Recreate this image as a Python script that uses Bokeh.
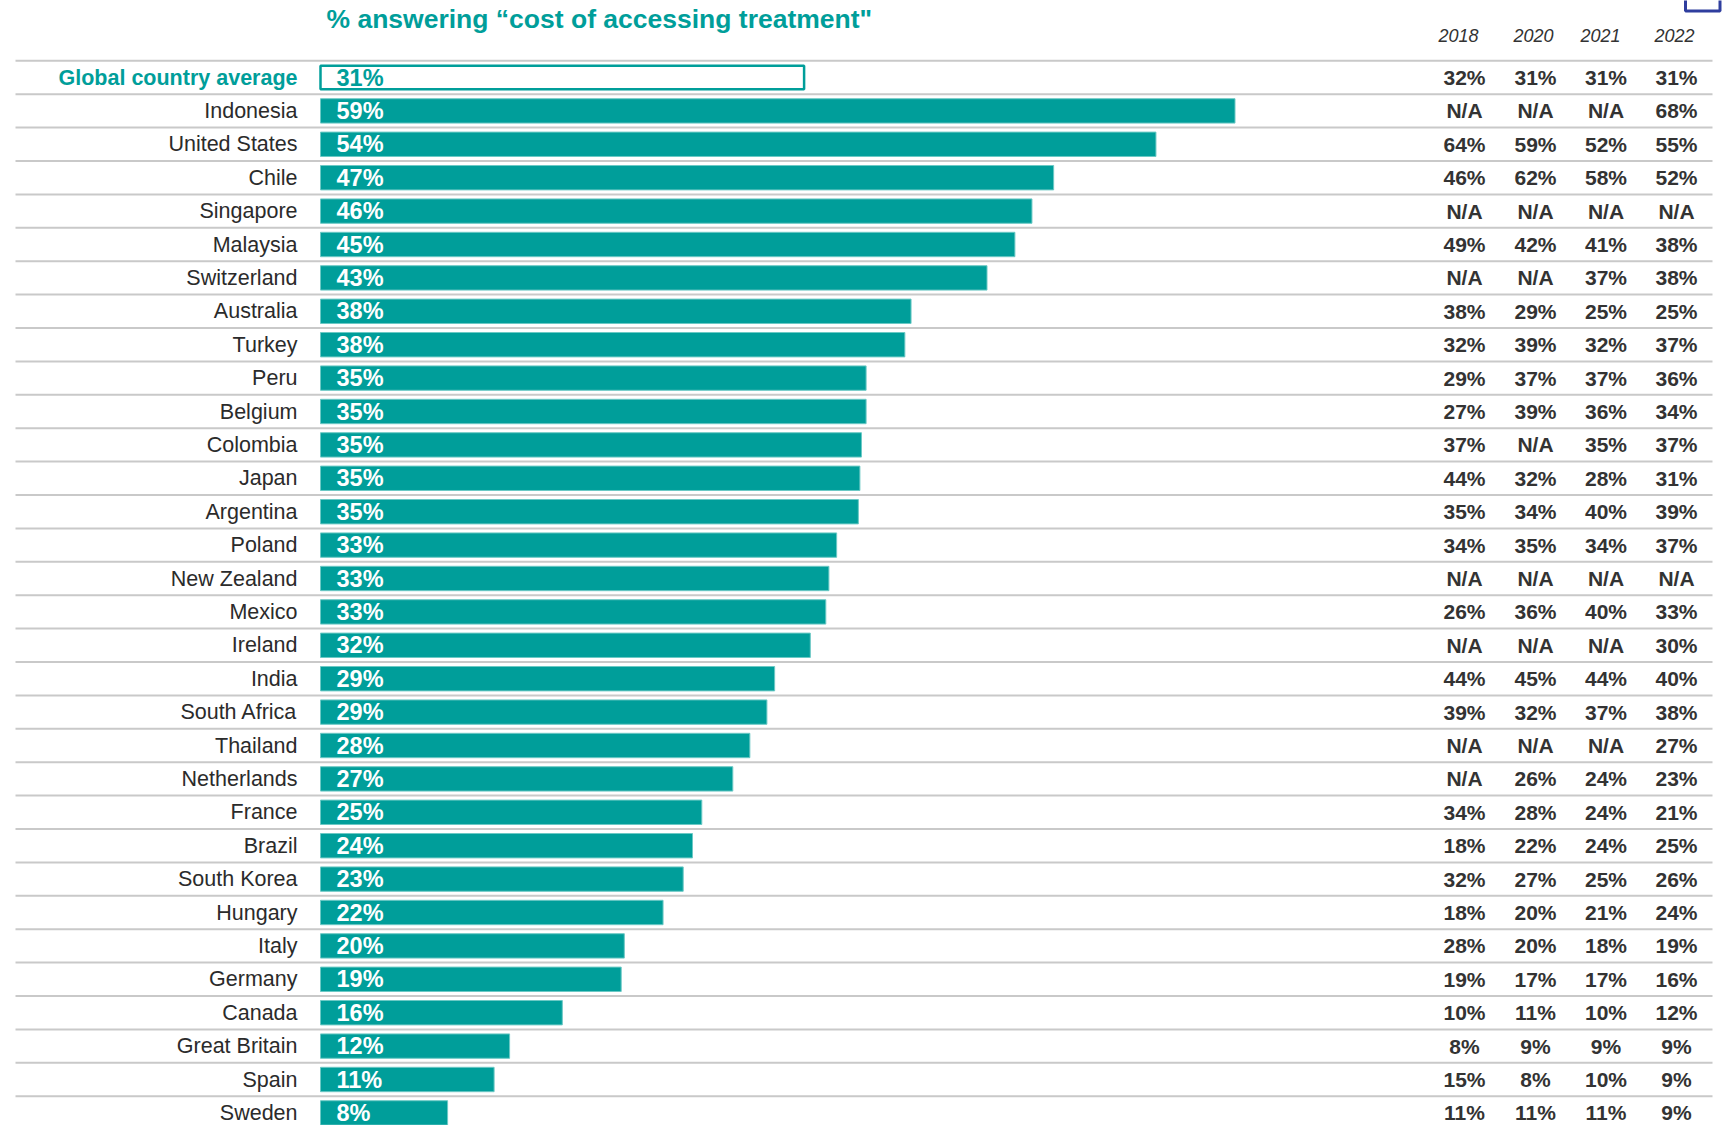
from bokeh.plotting import figure
from bokeh.models import Range1d, ColumnDataSource
from bokeh.core.properties import value
from bokeh.embed import file_html
from bokeh.resources import INLINE

# ---------------- data ----------------
countries = ["Global country average", "Indonesia", "United States", "Chile", "Singapore",
             "Malaysia", "Switzerland", "Australia", "Turkey", "Peru", "Belgium", "Colombia",
             "Japan", "Argentina", "Poland", "New Zealand", "Mexico", "Ireland", "India",
             "South Africa", "Thailand", "Netherlands", "France", "Brazil", "South Korea",
             "Hungary", "Italy", "Germany", "Canada", "Great Britain", "Spain", "Sweden"]
share_2023 = [31.2, 59.0, 53.9, 47.3, 45.9, 44.8, 43.0, 38.1, 37.7, 35.2, 35.2, 34.9,
              34.8, 34.7, 33.3, 32.8, 32.6, 31.6, 29.3, 28.8, 27.7, 26.6, 24.6, 24.0,
              23.4, 22.1, 19.6, 19.4, 15.6, 12.2, 11.2, 8.2]
years = ["2018", "2020", "2021", "2022"]
y2018 = ["32%", "N/A", "64%", "46%", "N/A", "49%", "N/A", "38%", "32%", "29%", "27%", "37%",
         "44%", "35%", "34%", "N/A", "26%", "N/A", "44%", "39%", "N/A", "N/A", "34%", "18%",
         "32%", "18%", "28%", "19%", "10%", "8%", "15%", "11%"]
y2020 = ["31%", "N/A", "59%", "62%", "N/A", "42%", "N/A", "29%", "39%", "37%", "39%", "N/A",
         "32%", "34%", "35%", "N/A", "36%", "N/A", "45%", "32%", "N/A", "26%", "28%", "22%",
         "27%", "20%", "20%", "17%", "11%", "9%", "8%", "11%"]
y2021 = ["31%", "N/A", "52%", "58%", "N/A", "41%", "37%", "25%", "32%", "37%", "36%", "35%",
         "28%", "40%", "34%", "N/A", "40%", "N/A", "44%", "37%", "N/A", "24%", "24%", "24%",
         "25%", "21%", "18%", "17%", "10%", "9%", "10%", "11%"]
y2022 = ["31%", "68%", "55%", "52%", "N/A", "38%", "38%", "25%", "37%", "36%", "34%", "37%",
         "31%", "39%", "37%", "N/A", "33%", "30%", "40%", "38%", "27%", "23%", "21%", "25%",
         "26%", "24%", "19%", "16%", "12%", "9%", "9%", "9%"]
title_text = "% answering \u201ccost of accessing treatment\""

# ---------------- layout helpers ----------------
TEAL = "#009E9A"
DARK = "#2b2b2b"
FONT = "Liberation Sans"
W, H = 1726, 1125
ORIG, SCALE = 320.0, 15.5      # reference x of 0% and px per %
ROW0, PITCH = 77.0, 33.4        # reference y of first row and row pitch


def px2x(px):
    return (px - ORIG) / SCALE


def py2y(py):
    return (py - ROW0) / PITCH


p = figure(width=W, height=H, output_backend="svg", toolbar_location=None,
           x_range=Range1d(px2x(0), px2x(W)),
           y_range=Range1d(py2y(H), py2y(0)),
           min_border=0, outline_line_color=None)
p.axis.visible = False
p.grid.visible = False
p.background_fill_color = "white"
p.border_fill_color = "white"

n = len(countries)
idx = list(range(n))

# separator lines
p.segment(x0=[px2x(15)] * n, x1=[px2x(1712)] * n, y0=[i - 0.5 for i in idx],
          y1=[i - 0.5 for i in idx], line_color="#c9c9c9", line_width=2)

# bars
src = ColumnDataSource(dict(y=idx[1:], right=share_2023[1:],
                            lab=[f"{round(v)}%" for v in share_2023[1:]],
                            name=countries[1:]))
p.hbar(y="y", left=0, right="right", height=0.73, source=src,
       fill_color=TEAL, line_color="#6cc9c5", line_width=1)
p.hbar(y=[0], left=0, right=[share_2023[0]], height=0.7, fill_color="white",
       line_color=TEAL, line_width=2.5)

# bar labels
p.text(x=0, y="y", text="lab", source=src, x_offset=16, text_baseline="middle",
       text_align="left", text_color="white", text_font=value(FONT),
       text_font_style="bold", text_font_size="23.5px")
p.text(x=[0], y=[0], text=[f"{round(share_2023[0])}%"], x_offset=16,
       text_baseline="middle", text_align="left", text_color=TEAL,
       text_font=value(FONT), text_font_style="bold", text_font_size="23.5px")

# country labels
p.text(x=0, y="y", text="name", source=src, x_offset=-23, text_baseline="middle",
       text_align="right", text_color=DARK, text_font=value(FONT),
       text_font_size="21.5px")
p.text(x=[0], y=[0], text=[countries[0]], x_offset=-23, text_baseline="middle",
       text_align="right", text_color=TEAL, text_font=value(FONT),
       text_font_style="bold", text_font_size="21.5px")

# table columns
col_px = [1464, 1535, 1605.5, 1676]
head_px = [1458, 1533, 1600, 1674]
for cpx, hpx, yr, vals in zip(col_px, head_px, years, [y2018, y2020, y2021, y2022]):
    p.text(x=[px2x(cpx)] * n, y=idx, text=vals, text_baseline="middle",
           text_align="center", text_color="#333333", text_font=value(FONT),
           text_font_style="bold", text_font_size="21px")
    p.text(x=[px2x(hpx)], y=[py2y(34.5)], text=[yr], text_baseline="middle",
           text_align="center", text_color="#333333", text_font=value(FONT),
           text_font_style="italic", text_font_size="18px")

# title
p.text(x=[px2x(326)], y=[py2y(18)], text=[title_text], text_baseline="middle",
       text_align="left", text_color=TEAL, text_font=value(FONT),
       text_font_style="bold", text_font_size="26.5px")

# navy box (cut off at the top)
p.quad(left=[px2x(1685)], right=[px2x(1719.5)], top=[py2y(-12)], bottom=[py2y(10.5)],
       fill_color=None, line_color="#2f3e9e", line_width=3)

open("out.html", "w").write(file_html(p, INLINE))
